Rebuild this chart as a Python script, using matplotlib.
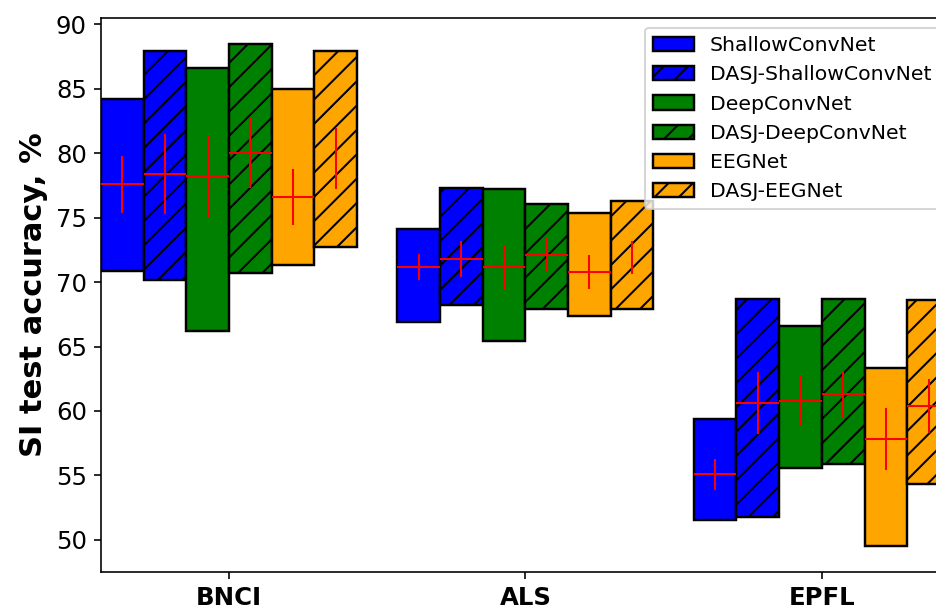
import numpy as np
import matplotlib
matplotlib.use('Agg')
from matplotlib import pyplot as plt
from matplotlib.patches import Patch

datasets = ['BNCI', 'ALS', 'EPFL']
models = ['ShallowConvNet', 'DASJ-ShallowConvNet', 'DeepConvNet',
          'DASJ-DeepConvNet', 'EEGNet', 'DASJ-EEGNet']
colors = ['blue', 'blue', 'green', 'green', 'orange', 'orange']
hatches = ['', '//', '', '//', '', '//']

# min / max across subjects (rows: model, cols: dataset)
acc_min = np.array([[70.9, 66.9, 51.5],
                    [70.2, 68.2, 51.8],
                    [66.2, 65.4, 55.6],
                    [70.7, 67.9, 55.9],
                    [71.3, 67.4, 49.5],
                    [72.7, 67.9, 54.3]])
acc_max = np.array([[84.2, 74.1, 59.4],
                    [87.9, 77.3, 68.7],
                    [86.6, 77.2, 66.6],
                    [88.5, 76.1, 68.7],
                    [85.0, 75.4, 63.3],
                    [87.9, 76.3, 68.6]])
acc_mean = np.array([[77.6, 71.2, 55.1],
                     [78.4, 71.8, 60.6],
                     [78.2, 71.2, 60.8],
                     [80.0, 72.1, 61.3],
                     [76.6, 70.8, 57.8],
                     [79.6, 71.9, 60.4]])
acc_std = np.array([[2.2, 1.0, 1.2],
                    [3.1, 1.4, 2.4],
                    [3.2, 1.7, 2.0],
                    [2.7, 1.3, 1.8],
                    [2.2, 1.3, 2.4],
                    [2.4, 1.3, 2.1]])
# mean marker (horizontal tick) shown or not
show_mean = np.array([[1, 1, 1],
                      [1, 1, 1],
                      [1, 1, 1],
                      [1, 1, 1],
                      [1, 1, 1],
                      [0, 0, 1]])

w = 0.144
x = np.arange(len(datasets))

fig = plt.figure(figsize=(6.4, 4.16), dpi=146.4)
ax = fig.add_axes([0.1078, 0.0608, 0.906, 0.9096])

for i, m in enumerate(models):
    pos = x + (i - 2.5) * w
    ax.bar(pos, acc_max[i] - acc_min[i], bottom=acc_min[i], width=w,
           color=colors[i], edgecolor='black', linewidth=1.2, hatch=hatches[i])
    ax.errorbar(pos, acc_mean[i], yerr=acc_std[i], xerr=show_mean[i] * w / 2,
                fmt='none', ecolor='red', elinewidth=1.0, capsize=0, zorder=3)

ax.set_xlim(-3 * w, 2 + 3 * w)
ax.set_ylim(47.5, 90.5)
ax.set_yticks(np.arange(50, 91, 5))
ax.set_xticks(x)
ax.set_xticklabels(datasets, fontsize=12, fontweight='bold')
ax.tick_params(axis='y', labelsize=12)
ax.set_ylabel('SI test accuracy, %', fontsize=15, fontweight='bold')

handles = [Patch(facecolor=colors[i], edgecolor='black', hatch=hatches[i],
                 linewidth=1.2, label=models[i]) for i in range(len(models))]
ax.legend(handles=handles, loc='upper right', fontsize=10)

fig.savefig('out.png', dpi=146.4)
